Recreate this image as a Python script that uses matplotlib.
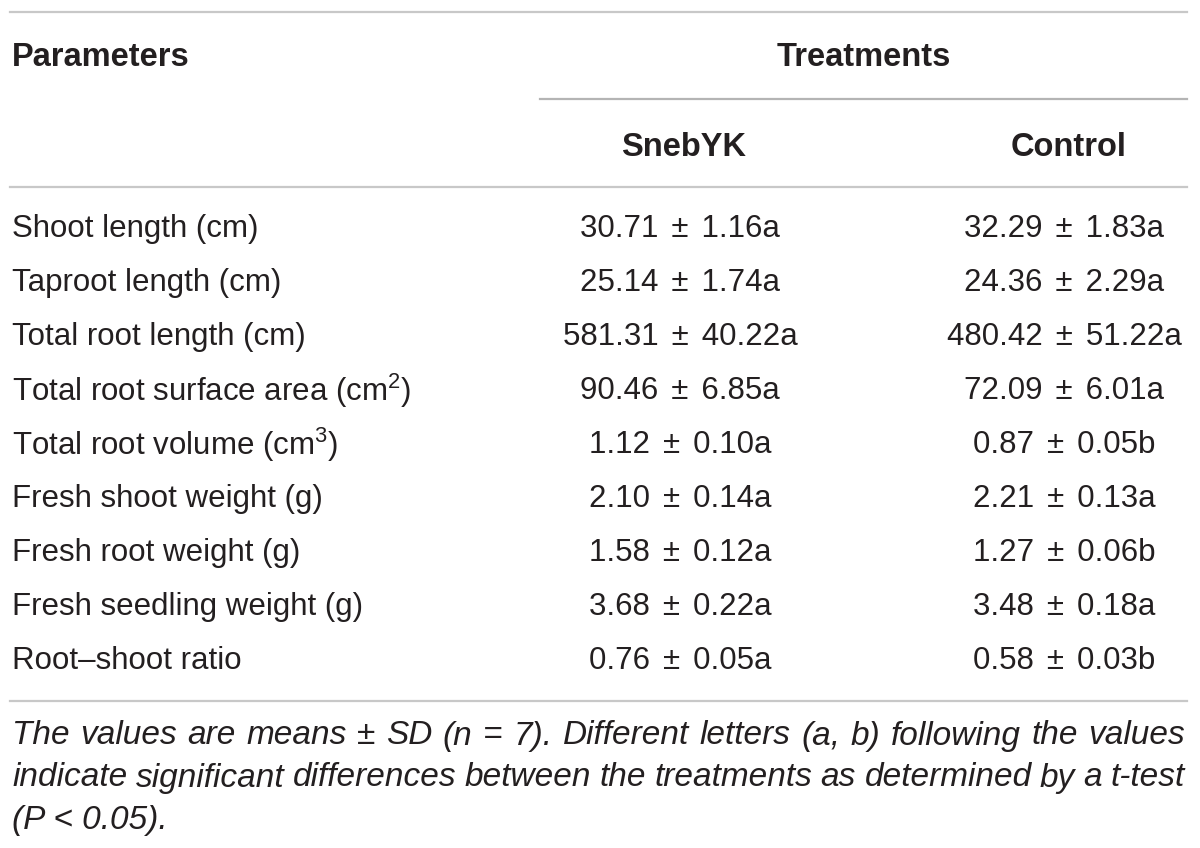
import matplotlib
matplotlib.use("Agg")
import matplotlib.pyplot as plt

plt.rcParams['font.family'] = ['Liberation Sans', 'DejaVu Sans']
plt.rcParams['mathtext.fontset'] = 'custom'
plt.rcParams['mathtext.rm'] = 'Liberation Sans'
plt.rcParams['mathtext.it'] = 'Liberation Sans:italic'

parameters = [
    "Shoot length (cm)",
    "Taproot length (cm)",
    "Total root length (cm)",
    "Total root surface area (cm$^{2}$)",
    "Total root volume (cm$^{3}$)",
    "Fresh shoot weight (g)",
    "Fresh root weight (g)",
    "Fresh seedling weight (g)",
    "Root\u2013shoot ratio",
]
snebyk_mean = [30.71, 25.14, 581.31, 90.46, 1.12, 2.10, 1.58, 3.68, 0.76]
snebyk_sd = [1.16, 1.74, 40.22, 6.85, 0.10, 0.14, 0.12, 0.22, 0.05]
snebyk_letter = ["a", "a", "a", "a", "a", "a", "a", "a", "a"]
control_mean = [32.29, 24.36, 480.42, 72.09, 0.87, 2.21, 1.27, 3.48, 0.58]
control_sd = [1.83, 2.29, 51.22, 6.01, 0.05, 0.13, 0.06, 0.18, 0.03]
control_letter = ["a", "a", "a", "a", "b", "a", "b", "a", "b"]

header_left = "Parameters"
header_group = "Treatments"
col_headers = ["SnebYK", "Control"]
footnote_lines = [
    "The values are means \u00b1 SD (n = 7). Different letters (a, b) following the values",
    "indicate significant differences between the treatments as determined by a t-test",
    "(P < 0.05).",
]

W, H = 1200, 848
fig = plt.figure(figsize=(12, 8.48), dpi=100)
ax = fig.add_axes([0, 0, 1, 1])
ax.set_xlim(0, W)
ax.set_ylim(H, 0)
ax.axis("off")

txt = "#231f20"
line_c = "#c8c8c8"
fs = 22.5
fsb = 23.5

# rules
ax.plot([10, 1187], [12, 12], color=line_c, lw=1.6)
ax.plot([540, 1187], [99, 99], color="#b4b4b4", lw=1.6)
ax.plot([10, 1187], [187, 187], color=line_c, lw=1.6)
ax.plot([10, 1187], [701, 701], color=line_c, lw=1.6)

ax.text(12, 57, header_left, fontsize=fsb, fontweight="bold", color=txt, va="center", ha="left")
ax.text(864, 57, header_group, fontsize=fsb, fontweight="bold", color=txt, va="center", ha="center")
col_x = [684, 1069]
for x, h in zip(col_x, col_headers):
    ax.text(x, 147, h, fontsize=fsb, fontweight="bold", color=txt, va="center", ha="center")

pm = "\u2004\u200a\u00b1\u2004\u200a"
val_x = [680, 1064]
row_y0, row_dy = 229, 54
for i, p in enumerate(parameters):
    y = row_y0 + i * row_dy
    ax.text(12, y, p, fontsize=fs, color=txt, va="center", ha="left")
    s1 = f"{snebyk_mean[i]:.2f}{pm}{snebyk_sd[i]:.2f}{snebyk_letter[i]}"
    s2 = f"{control_mean[i]:.2f}{pm}{control_sd[i]:.2f}{control_letter[i]}"
    ax.text(val_x[0], y, s1, fontsize=fs, color=txt, va="center", ha="center")
    ax.text(val_x[1], y, s2, fontsize=fs, color=txt, va="center", ha="center")

# footnote, justified like the reference
fig.canvas.draw()
renderer = fig.canvas.get_renderer()
ffs = 24
x0, x1 = 12, 1185
for j, line in enumerate(footnote_lines):
    y = 736 + j * 42
    if j == len(footnote_lines) - 1:
        ax.text(x0, y, line, fontsize=ffs, fontstyle="italic", color=txt, va="center", ha="left")
        continue
    words = line.split(" ")
    widths = []
    for w in words:
        t = ax.text(0, y, w, fontsize=ffs, fontstyle="italic", va="center", ha="left")
        bb = t.get_window_extent(renderer)
        widths.append(bb.width)
        t.remove()
    gap = (x1 - x0 - sum(widths)) / (len(words) - 1)
    x = x0
    for w, wd in zip(words, widths):
        ax.text(x, y, w, fontsize=ffs, fontstyle="italic", color=txt, va="center", ha="left")
        x += wd + gap

fig.savefig("out.png", dpi=100, facecolor="white")
